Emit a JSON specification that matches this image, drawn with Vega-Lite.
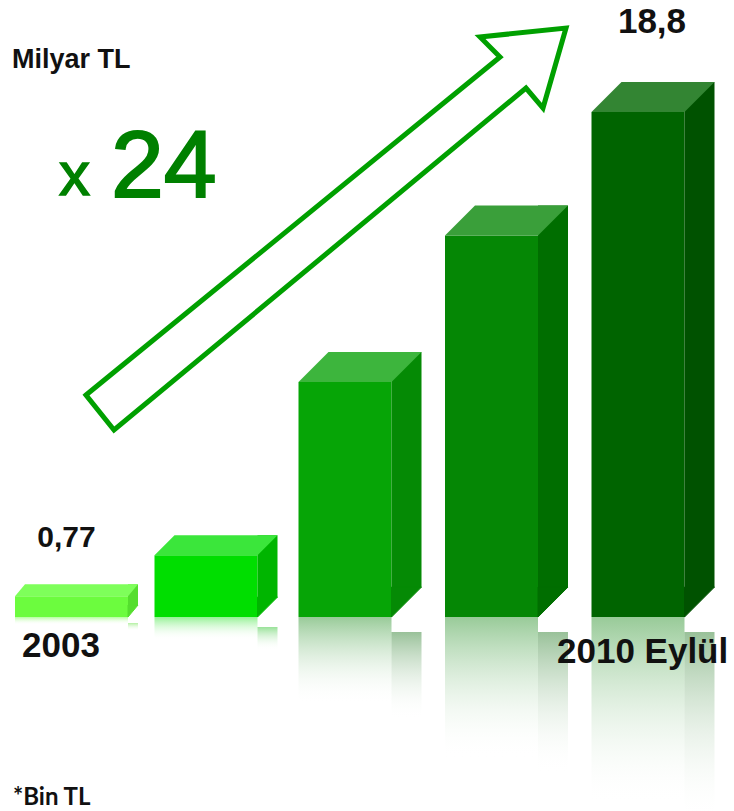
{
  "$schema": "https://vega.github.io/schema/vega-lite/v6.json",
  "width": 734,
  "height": 811,
  "padding": 0,
  "autosize": {"type": "none"},
  "background": "#ffffff",
  "config": {"view": {"stroke": null}},
  "datasets": {
    "bars": [
      {"period": "2003", "value": 0.77, "label": "0,77"},
      {"period": "P2", "value": 2.3, "label": ""},
      {"period": "P3", "value": 8.75, "label": ""},
      {"period": "P4", "value": 14.2, "label": ""},
      {"period": "2010 Eylül", "value": 18.8, "label": "18,8"}
    ]
  },
  "data": {"name": "bars"},
  "encoding": {
    "x": {
      "field": "period",
      "type": "nominal",
      "scale": {"type": "point", "domain": ["2003", "P2", "P3", "P4", "2010 Eylül"], "range": [52, 638], "padding": 0},
      "axis": null
    }
  },
  "resolve": {"scale": {"y": "independent"}},
  "layer": [
    {
      "encoding": {
        "y": {"field": "value", "type": "quantitative", "scale": {"domain": [0, 19.5], "range": [617, 811], "nice": false}, "axis": null}
      },
      "layer": [
        {"transform": [{"filter": "datum.period === '2003'"}],
         "mark": {"type": "bar", "width": 113, "xOffset": 19.5, "color": {"gradient": "linear", "x1": 0, "y1": 0, "x2": 0, "y2": 1, "stops": [{"offset": 0, "color": "rgba(108,252,62,0.5)"}, {"offset": 1, "color": "rgba(255,255,255,0)"}]}}},
        {"transform": [{"filter": "datum.period === '2003'"}],
         "mark": {"type": "bar", "width": 10, "xOffset": 81, "yOffset": 6, "y2Offset": 6, "color": {"gradient": "linear", "x1": 0, "y1": 0, "x2": 0, "y2": 1, "stops": [{"offset": 0, "color": "rgba(85,222,46,0.45)"}, {"offset": 1, "color": "rgba(255,255,255,0)"}]}}},
        {"transform": [{"filter": "datum.period === 'P2'"}],
         "mark": {"type": "bar", "width": 103, "xOffset": 7.5, "color": {"gradient": "linear", "x1": 0, "y1": 0, "x2": 0, "y2": 1, "stops": [{"offset": 0, "color": "rgba(0,222,0,0.42)"}, {"offset": 1, "color": "rgba(255,255,255,0)"}]}}},
        {"transform": [{"filter": "datum.period === 'P2'"}],
         "mark": {"type": "bar", "width": 20, "xOffset": 69, "yOffset": 10, "y2Offset": 10, "color": {"gradient": "linear", "x1": 0, "y1": 0, "x2": 0, "y2": 1, "stops": [{"offset": 0, "color": "rgba(0,181,0,0.4)"}, {"offset": 1, "color": "rgba(255,255,255,0)"}]}}},
        {"transform": [{"filter": "indexof(['P3','P4','2010 Eylül'], datum.period) >= 0"}],
         "mark": {"type": "bar", "width": 93, "color": {"gradient": "linear", "x1": 0, "y1": 0, "x2": 0, "y2": 1, "stops": [{"offset": 0, "color": "rgba(10,130,10,0.42)"}, {"offset": 1, "color": "rgba(255,255,255,0)"}]}}},
        {"transform": [{"filter": "indexof(['P3','P4','2010 Eylül'], datum.period) >= 0"}],
         "mark": {"type": "bar", "width": 30, "xOffset": 61.5, "yOffset": 15, "y2Offset": 15, "color": {"gradient": "linear", "x1": 0, "y1": 0, "x2": 0, "y2": 1, "stops": [{"offset": 0, "color": "rgba(0,100,0,0.4)"}, {"offset": 1, "color": "rgba(255,255,255,0)"}]}}}
      ]
    },
    {
      "encoding": {
        "y": {"field": "value", "type": "quantitative", "scale": {"domain": [-7.22, 22.97], "nice": false, "zero": false}, "axis": null}
      },
      "layer": [
        {"transform": [{"filter": "datum.period === '2003'"}],
         "mark": {"type": "bar", "width": 113, "xOffset": 19.5, "color": "#6CFC3E"}},
        {"transform": [{"filter": "datum.period === '2003'"}],
         "mark": {"type": "bar", "width": 10, "xOffset": 81, "yOffset": -12, "y2Offset": -12, "color": "#55DE2E"}},
        {"transform": [{"filter": "datum.period === '2003'"}],
         "mark": {"type": "point", "shape": "M 56.5 0 L 56.5 -12 L 66.5 -12 Z", "size": 4, "filled": true, "opacity": 1, "xOffset": 19.5, "color": "#55DE2E", "stroke": "#55DE2E", "strokeWidth": 1},
         "encoding": {"y": {"datum": 0, "type": "quantitative"}}},
        {"transform": [{"filter": "datum.period === '2003'"}],
         "mark": {"type": "point", "shape": "M -56.5 0 L 56.5 0 L 66.5 -12 L -46.5 -12 Z", "size": 4, "filled": true, "opacity": 1, "xOffset": 19.5, "color": "#7EFF5A"}},

        {"transform": [{"filter": "datum.period === 'P2'"}],
         "mark": {"type": "bar", "width": 103, "xOffset": 7.5, "color": "#00DE00"}},
        {"transform": [{"filter": "datum.period === 'P2'"}],
         "mark": {"type": "bar", "width": 20, "xOffset": 69, "yOffset": -20, "y2Offset": -20, "color": "#00B500"}},
        {"transform": [{"filter": "datum.period === 'P2'"}],
         "mark": {"type": "point", "shape": "M 51.5 0 L 51.5 -20 L 71.5 -20 Z", "size": 4, "filled": true, "opacity": 1, "xOffset": 7.5, "color": "#00B500", "stroke": "#00B500", "strokeWidth": 1},
         "encoding": {"y": {"datum": 0, "type": "quantitative"}}},
        {"transform": [{"filter": "datum.period === 'P2'"}],
         "mark": {"type": "point", "shape": "M -51.5 0 L 51.5 0 L 71.5 -20 L -31.5 -20 Z", "size": 4, "filled": true, "opacity": 1, "xOffset": 7.5, "color": "#3BE63B"}},

        {"transform": [{"filter": "indexof(['P3','P4','2010 Eylül'], datum.period) >= 0"}],
         "mark": {"type": "bar", "width": 93},
         "encoding": {"color": {"condition": [{"test": "datum.period === 'P3'", "value": "#06A506"}, {"test": "datum.period === 'P4'", "value": "#058705"}], "value": "#006400"}}},
        {"transform": [{"filter": "indexof(['P3','P4','2010 Eylül'], datum.period) >= 0"}],
         "mark": {"type": "bar", "width": 30, "xOffset": 61.5, "yOffset": -30, "y2Offset": -30},
         "encoding": {"color": {"condition": [{"test": "datum.period === 'P3'", "value": "#058A05"}, {"test": "datum.period === 'P4'", "value": "#006E00"}], "value": "#005200"}}},
        {"transform": [{"filter": "indexof(['P3','P4','2010 Eylül'], datum.period) >= 0"}],
         "mark": {"type": "point", "shape": "M 46.5 0 L 46.5 -30 L 76.5 -30 Z", "size": 4, "filled": true, "opacity": 1, "strokeWidth": 1},
         "encoding": {"y": {"datum": 0, "type": "quantitative"},
                      "color": {"condition": [{"test": "datum.period === 'P3'", "value": "#058A05"}, {"test": "datum.period === 'P4'", "value": "#006E00"}], "value": "#005200"},
                      "stroke": {"condition": [{"test": "datum.period === 'P3'", "value": "#058A05"}, {"test": "datum.period === 'P4'", "value": "#006E00"}], "value": "#005200"}}},
        {"transform": [{"filter": "indexof(['P3','P4','2010 Eylül'], datum.period) >= 0"}],
         "mark": {"type": "point", "shape": "M -46.5 0 L 46.5 0 L 76.5 -30 L -16.5 -30 Z", "size": 4, "filled": true, "opacity": 1},
         "encoding": {"color": {"condition": [{"test": "datum.period === 'P3'", "value": "#3DB53D"}, {"test": "datum.period === 'P4'", "value": "#3A9F3A"}], "value": "#338533"}}},

        {"transform": [{"filter": "datum.period === '2003'"}],
         "mark": {"type": "point", "shape": "M -259 46.6 L 155 -291.4 L 135 -311.4 L 221 -320.4 L 198 -240.4 L 181 -260.4 L -231 81.6 Z", "size": 4, "filled": true, "fill": "#ffffff", "stroke": "#00A000", "strokeWidth": 5, "opacity": 1, "strokeJoin": "miter"},
         "encoding": {"x": {"datum": "P3"}, "y": {"datum": 10, "type": "quantitative"}}},

        {"transform": [{"filter": "datum.period === '2003'"}],
         "mark": {"type": "text", "text": "Milyar TL", "font": "Liberation Sans", "fontWeight": "bold", "fontSize": 27, "align": "left", "baseline": "alphabetic", "dx": -40, "color": "#111111"},
         "encoding": {"x": {"datum": "2003"}, "y": {"datum": 20.44, "type": "quantitative"}}},

        {"transform": [{"filter": "datum.period === '2003'"}],
         "mark": {"type": "text", "text": "x", "font": "Liberation Sans", "fontSize": 62, "align": "left", "baseline": "alphabetic", "dx": 7, "color": "#008000", "stroke": "#008000", "strokeWidth": 1.5},
         "encoding": {"x": {"datum": "2003"}, "y": {"datum": 15.71, "type": "quantitative"}}},
        {"transform": [{"filter": "datum.period === '2003'"}],
         "mark": {"type": "text", "text": "24", "font": "Liberation Sans", "fontSize": 95, "align": "left", "baseline": "alphabetic", "dx": 59, "color": "#008000", "stroke": "#008000", "strokeWidth": 2},
         "encoding": {"x": {"datum": "2003"}, "y": {"datum": 15.655, "type": "quantitative"}}},

        {"transform": [{"filter": "datum.period === '2003'"}],
         "mark": {"type": "text", "font": "Liberation Sans", "fontWeight": "bold", "fontSize": 30, "align": "center", "baseline": "alphabetic", "dx": 14.5, "color": "#111111"},
         "encoding": {"text": {"field": "label"}, "y": {"datum": 2.625, "type": "quantitative"}}},
        {"transform": [{"filter": "datum.period === '2010 Eylül'"}],
         "mark": {"type": "text", "font": "Liberation Sans", "fontWeight": "bold", "fontSize": 35, "align": "center", "baseline": "alphabetic", "dx": 14, "color": "#111111"},
         "encoding": {"text": {"field": "label"}, "y": {"datum": 21.74, "type": "quantitative"}}},
        {"transform": [{"filter": "datum.period === '2003'"}],
         "mark": {"type": "text", "font": "Liberation Sans", "fontWeight": "bold", "fontSize": 35, "align": "center", "baseline": "alphabetic", "dx": 9, "color": "#111111"},
         "encoding": {"text": {"field": "period"}, "y": {"datum": -1.489, "type": "quantitative"}}},
        {"transform": [{"filter": "datum.period === '2010 Eylül'"}],
         "mark": {"type": "text", "font": "Liberation Sans", "fontWeight": "bold", "fontSize": 35, "align": "left", "baseline": "alphabetic", "dx": -81, "color": "#111111"},
         "encoding": {"text": {"field": "period"}, "y": {"datum": -1.713, "type": "quantitative"}}},
        {"transform": [{"filter": "datum.period === '2003'"}],
         "mark": {"type": "text", "text": "*Bin TL", "font": "Lato", "fontWeight": "bold", "fontSize": 24, "align": "left", "baseline": "alphabetic", "dx": -39, "color": "#111111"},
         "encoding": {"x": {"datum": "2003"}, "y": {"datum": -7.0, "type": "quantitative"}}}
      ]
    }
  ]
}
